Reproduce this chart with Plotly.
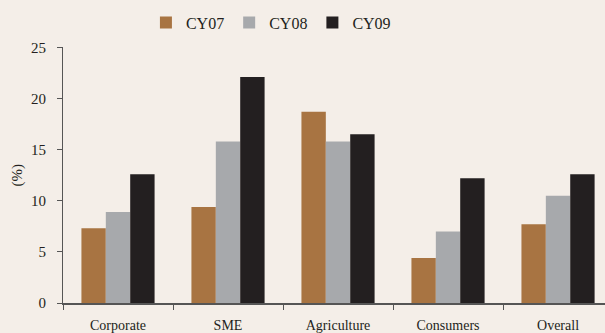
import plotly.graph_objects as go

categories = ["Corporate", "SME", "Agriculture", "Consumers", "Overall"]
cy07 = [7.3, 9.4, 18.7, 4.4, 7.7]
cy08 = [8.9, 15.8, 15.8, 7.0, 10.5]
cy09 = [12.6, 22.1, 16.5, 12.2, 12.6]
series = [("CY07", cy07, "#A87442"), ("CY08", cy08, "#A7A9AC"), ("CY09", cy09, "#231F20")]
yticks = [0, 5, 10, 15, 20, 25]

FONT = "Liberation Serif"
fig = go.Figure()
for name, vals, col in series:
    fig.add_trace(go.Bar(x=categories, y=vals, name=name, marker_color=col, marker_line_width=0))

bg = "#F4EEE8"
fig.update_layout(
    width=605, height=333,
    margin=dict(l=63, r=0, t=44, b=29),
    paper_bgcolor=bg, plot_bgcolor=bg,
    barmode="group", bargap=0.335, bargroupgap=0,
    font=dict(family=FONT, color="#231F20", size=14),
    legend=dict(orientation="h", x=0.153, xanchor="left", y=0.983, yanchor="top",
                yref="container", font=dict(family=FONT, size=16, color="#231F20"),
                itemwidth=30, traceorder="normal"),
    showlegend=True,
)
fig.update_xaxes(
    type="category", range=[-0.5, 4.427], tickson="boundaries",
    ticks="outside", ticklen=5, tickcolor="#555555", tickwidth=1,
    showline=True, linecolor="#555555", linewidth=2,
    tickfont=dict(family=FONT, size=14, color="#231F20"), showgrid=False,
    ticklabelstandoff=8,
)
fig.update_yaxes(
    range=[0, 25], tickvals=yticks, ticks="outside", ticklen=5,
    tickcolor="#555555", showline=True, linecolor="#555555", linewidth=1,
    showgrid=False, zeroline=False, tickfont=dict(family=FONT, size=15, color="#231F20"),
    ticklabelstandoff=8,
    title=dict(text="(%)", font=dict(family=FONT, size=15, color="#231F20"), standoff=4),
)
fig.write_html("out.html")
